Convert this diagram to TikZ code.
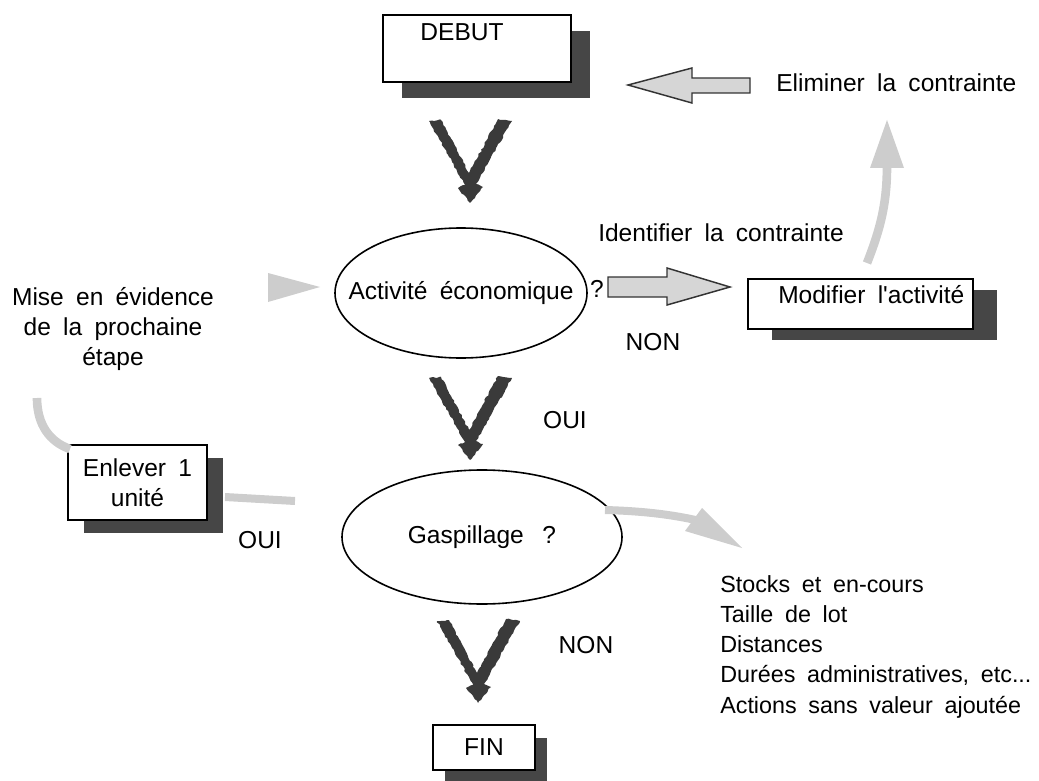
\documentclass[tikz,border=0pt]{standalone}
\usepackage{fontspec}
\setmainfont{Liberation Sans}[Ligatures=TeXOff]
\usetikzlibrary{shapes.geometric,shadows,decorations.pathmorphing}
\definecolor{shadowcol}{HTML}{464646}
\definecolor{lightg}{HTML}{CDCDCD}
\definecolor{fatg}{HTML}{D6D6D6}
\definecolor{vcol}{HTML}{3A3A3A}
\newcommand\diagfont{\fontsize{18.4}{22.5}\selectfont\spaceskip 0.5em plus 0.1em\relax}
\newcommand\listfont{\fontsize{17.5}{22.7}\selectfont\spaceskip 0.5em plus 0.1em\relax}
\begin{document}
\begin{tikzpicture}[x=0.75pt,y=-0.75pt,
  every node/.style={font=\diagfont, inner sep=0pt},
  sbox/.style 2 args={rectangle, draw=black, line width=1.2pt, fill=white,
     drop shadow={shadow xshift=#1, shadow yshift=-#2, opacity=1, fill=shadowcol}},
  oval/.style={ellipse, draw=black, line width=1.2pt},
  fatarrow/.style={fill=fatg, draw=black!80, line width=1.1pt, line join=miter},
  greyline/.style={draw=lightg, line width=6.5pt},
  vpic/.pic={\fill[vcol, decorate, decoration={random steps, segment length=2pt, amplitude=0.6pt}]
     (-41,-82) -- (-29,-83) -- (-1,-30) -- (28,-84) -- (42,-82) -- (6,-19) -- (13,-16)
     -- (0,0) -- (-12,-15) -- (-5,-18) -- cycle;}
]
\pgfmathsetseed{7}
\useasboundingbox (0,0) rectangle (1039,781);

% boxes
\node[sbox={14.25pt}{12pt}, minimum width=141pt, minimum height=50.25pt, anchor=north west] (debut) at (382,14) {};
\node[anchor=base] (debuttxt) at (462,41) {DEBUT};

\node[sbox={18pt}{8.25pt}, minimum width=168.75pt, minimum height=37.5pt, anchor=north west] (modif) at (747,278) {};
\node[anchor=base west] (modtxt) at (778,303) {Modifier l'activité};

\node[sbox={12pt}{9.75pt}, minimum width=104.25pt, minimum height=56.25pt, align=center] (enl) at (137.5,482.5) {Enlever 1\\unité};

\node[sbox={9pt}{9.75pt}, minimum width=76.5pt, minimum height=33.75pt] (fin) at (484,747.5) {FIN};

% ellipses
\node[oval, minimum width=189pt, minimum height=97.5pt] (act) at (461,293) {\makebox[0pt]{Activité économique}};
\node[oval, minimum width=210pt, minimum height=100.5pt] (gasp) at (482,537) {\makebox[0pt]{Gaspillage\hspace{14pt}?}};

% texts
\node[anchor=base west] (elim) at (776,92) {Eliminer la contrainte};
\node[anchor=base west] (ident) at (598,242) {Identifier la contrainte};
\node[anchor=base] (q1) at (597,297) {?};
\node[anchor=base] (non1) at (653,350) {NON};
\node[align=center] (mise) at (113,329) {Mise en évidence\\de la prochaine\\étape};
\node[anchor=base] (oui1) at (260,548) {OUI};
\node[anchor=base] (oui2) at (565,428) {OUI};
\node[anchor=base] (non2) at (586,653) {NON};
\node[anchor=north west, align=left, font=\listfont] (list) at (720,575)
  {Stocks et en-cours\\Taille de lot\\Distances\\Durées administratives, etc...\\Actions sans valeur ajoutée};

% V connectors (tips)
\coordinate (v1) at (470,203);
\coordinate (v2) at (470,460);
\coordinate (v3) at (478,703);
\pic at (v1) {vpic};
\pic at (v2) {vpic};
\pic at (v3) {vpic};

% fat arrows
\draw[fatarrow] (608,277) -- (667,277) -- (667,268) -- (730,287) -- (667,305) -- (667,297) -- (608,297) -- cycle;
\draw[fatarrow] (750,78) -- (692,78) -- (692,68) -- (628,85) -- (692,103) -- (692,93) -- (750,93) -- cycle;

% light grey connectors
\coordinate (m1) at (867,263);
\coordinate (m2) at (887,165);
\draw[greyline] (m1) .. controls (882,225) and (887,200) .. (m2);
\fill[lightg] (870,168) -- (904,168) -- (887,120) -- cycle;

\fill[lightg] (268,273) -- (320,287) -- (268,302) -- cycle;

\coordinate (a1) at (37,398);
\coordinate (a2) at (70,449);
\draw[greyline] (a1) .. controls (37,425) and (50,442) .. (a2);

\coordinate (g1) at (225,497);
\coordinate (g2) at (295,501);
\draw[greyline, line width=6pt] (g1) -- (g2);

\coordinate (s1) at (605,510);
\coordinate (s2) at (700,521);
\draw[greyline, line width=6pt] (s1) .. controls (640,511) and (670,514) .. (s2);
\fill[lightg] (702,508) -- (742,548) -- (685,531) -- cycle;
\end{tikzpicture}
\end{document}
